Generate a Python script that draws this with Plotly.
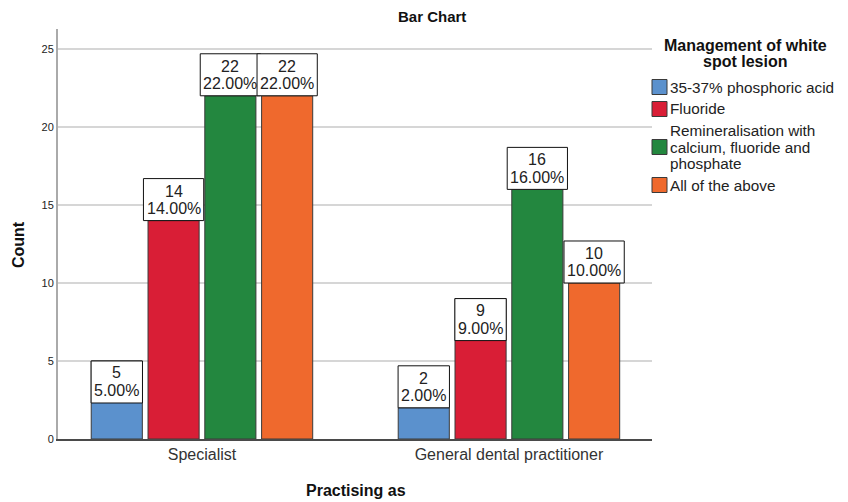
import plotly.graph_objects as go

# ---------------- data ----------------
categories = ["Specialist", "General dental practitioner"]
series_names = ["35-37% phosphoric acid", "Fluoride",
                "Remineralisation with calcium, fluoride and phosphate",
                "All of the above"]
legend_lines = [["35-37% phosphoric acid"], ["Fluoride"],
                ["Remineralisation with", "calcium, fluoride and", "phosphate"],
                ["All of the above"]]
phosphoric_acid = [5, 2]
fluoride = [14, 9]
remineralisation = [22, 16]
all_of_the_above = [22, 10]
y_ticks = [0, 5, 10, 15, 20, 25]

series_values = [phosphoric_acid, fluoride, remineralisation, all_of_the_above]
total = sum(sum(s) for s in series_values)

# ---------------- style ----------------
colors = ["#5B91CD", "#D91E36", "#23873F", "#EF692D"]
label_inside = [[True, False], [False, True], [False, False], [False, False]]
FONT = "Liberation Sans, Arial, sans-serif"
OFF = 8                      # default page body margin
W, H = 848 - OFF, 502 - OFF
ML, MR, MT, MB = 58 - OFF, 196, 29 - OFF, 63
PW, PH = W - ML - MR, H - MT - MB
XR = [-0.469, 1.466]
YR = [0, 26.28]
BARGAP, BARGROUPGAP = 0.26, 0.1
LABEL_SIZE = 16

def px2paper_x(px):
    return (px - OFF - ML) / PW

def px2paper_y(py):
    return (H - MB - (py - OFF)) / PH

fig = go.Figure()
for name, vals, col in zip(series_names, series_values, colors):
    fig.add_trace(go.Bar(
        name=name, x=categories, y=vals,
        marker=dict(color=col, line=dict(color="#3a3a3a", width=1)),
        showlegend=False, hoverinfo="x+y+name"))

# ---------------- value labels ----------------
char_w = {"0": .556, "1": .556, "2": .556, "3": .556, "4": .556, "5": .556,
          "6": .556, "7": .556, "8": .556, "9": .556, ".": .278, "%": .889}
px_per_unit = PW / (XR[1] - XR[0])
n = len(series_values)
slot = (1 - BARGAP) / n
bar_px = slot * (1 - BARGROUPGAP) * px_per_unit

shapes, annotations = [], []
for k, vals in enumerate(series_values):
    for ci, v in enumerate(vals):
        xc = ci + (k - (n - 1) / 2) * slot
        pct = f"{100 * v / total:.2f}%"
        tw = sum(char_w.get(c, .556) for c in pct) * LABEL_SIZE
        bw = max(bar_px, tw + 6)
        inside = label_inside[k][ci]
        y0, y1 = (-42, 0) if inside else (0, 42)
        shapes.append(dict(type="rect", xref="x", yref="y",
                           xsizemode="pixel", ysizemode="pixel",
                           xanchor=xc, yanchor=v,
                           x0=-bw / 2, x1=bw / 2, y0=y0, y1=y1,
                           fillcolor="white", line=dict(color="#111111", width=1),
                           layer="above"))
        shifts = (-12, -29.5) if inside else (29.5, 12)
        for txt, ys in zip([str(v), pct], shifts):
            annotations.append(dict(x=xc, y=v, xref="x", yref="y", text=txt,
                                    showarrow=False, yshift=ys, yanchor="middle",
                                    xanchor="center",
                                    font=dict(family=FONT, size=LABEL_SIZE, color="#222222")))

# ---------------- titles ----------------
annotations.append(dict(text="<b>Bar Chart</b>", xref="paper", yref="paper",
                        x=px2paper_x(432), y=px2paper_y(16.5), showarrow=False,
                        xanchor="center", yanchor="middle",
                        font=dict(family=FONT, size=15, color="#111111")))
annotations.append(dict(text="<b>Count</b>", xref="paper", yref="paper",
                        x=px2paper_x(18), y=px2paper_y(245), showarrow=False,
                        textangle=-90, xanchor="center", yanchor="middle",
                        font=dict(family=FONT, size=16, color="#111111")))
annotations.append(dict(text="<b>Practising as</b>", xref="paper", yref="paper",
                        x=px2paper_x(356), y=px2paper_y(490), showarrow=False,
                        xanchor="center", yanchor="middle",
                        font=dict(family=FONT, size=16, color="#111111")))

# ---------------- legend (manual, tight line spacing) ----------------
for txt, py in zip(["Management of white", "spot lesion"], [45, 62]):
    annotations.append(dict(text=f"<b>{txt}</b>", xref="paper", yref="paper",
                            x=px2paper_x(745), y=px2paper_y(py), showarrow=False,
                            xanchor="center", yanchor="middle",
                            font=dict(family=FONT, size=16, color="#111111")))
row_centers = [87, 109, 147, 185]
line_h = 17
for lines, col, rc in zip(legend_lines, colors, row_centers):
    shapes.append(dict(type="rect", xref="paper", yref="paper",
                       x0=px2paper_x(652), x1=px2paper_x(667),
                       y0=px2paper_y(rc + 7.5), y1=px2paper_y(rc - 7.5),
                       fillcolor=col, line=dict(color="#3a3a3a", width=1)))
    m = len(lines)
    for j, t in enumerate(lines):
        py = rc + (j - (m - 1) / 2) * line_h
        annotations.append(dict(text=t, xref="paper", yref="paper",
                                x=px2paper_x(668), y=px2paper_y(py), showarrow=False,
                                xanchor="left", yanchor="middle",
                                font=dict(family=FONT, size=15.3, color="#222222")))

fig.update_layout(
    width=W, height=H,
    margin=dict(l=ML, r=MR, t=MT, b=MB),
    paper_bgcolor="white", plot_bgcolor="white",
    barmode="group", bargap=BARGAP, bargroupgap=BARGROUPGAP,
    font=dict(family=FONT, color="#222222"),
    shapes=shapes, annotations=annotations,
    xaxis=dict(range=XR, showgrid=False, showline=True, linecolor="#4a4a4a",
               linewidth=1.5, ticks="", tickfont=dict(size=16, color="#333333"),
               zeroline=False, fixedrange=True),
    yaxis=dict(range=YR, tickvals=y_ticks, showgrid=True, gridcolor="#d6d6d6",
               gridwidth=1.5, showline=True, linecolor="#aaaaaa", linewidth=2,
               ticks="", ticklabelstandoff=0, zeroline=False,
               tickfont=dict(size=11, color="#222222"), fixedrange=True),
)

fig.write_html("out.html")
